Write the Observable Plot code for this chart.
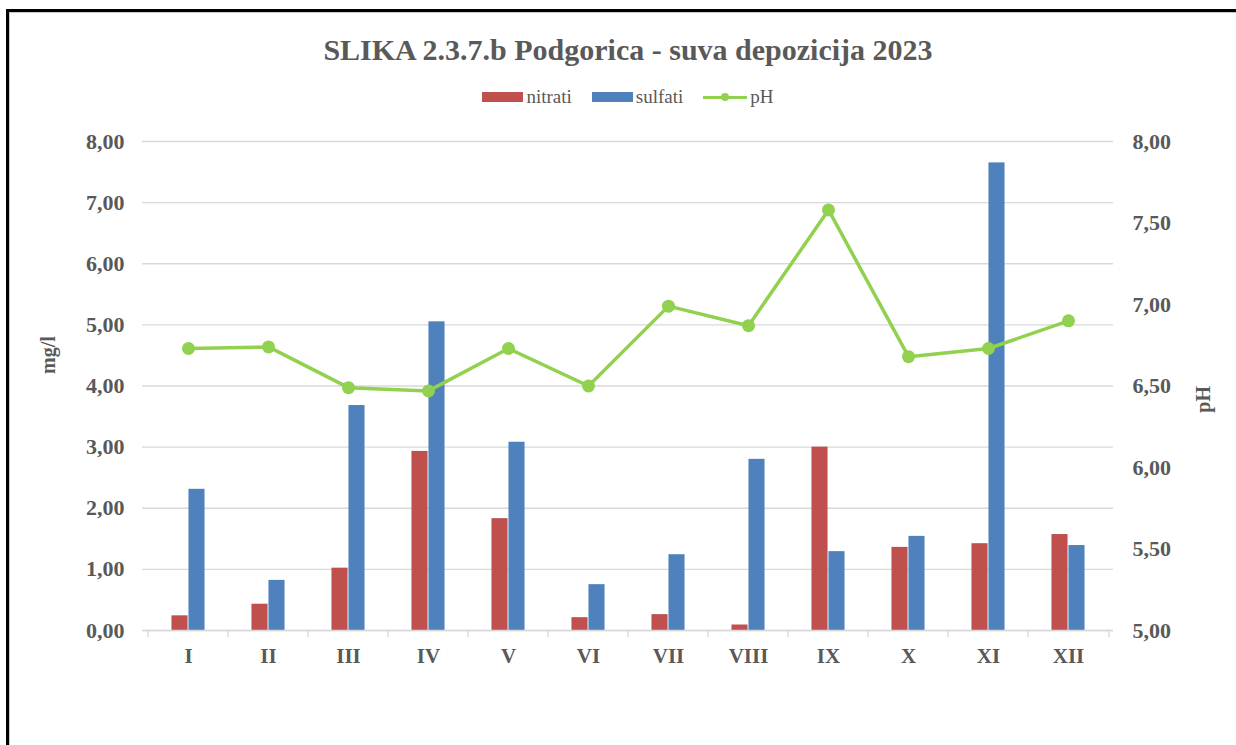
<!DOCTYPE html>
<html>
<head>
<meta charset="utf-8">
<script src="https://cdn.jsdelivr.net/npm/d3@7"></script>
<script src="https://cdn.jsdelivr.net/npm/@observablehq/plot@0.6"></script>
<style>
  html, body { margin: 0; padding: 0; background: #fff; }
  body { width: 1236px; height: 745px; position: relative; overflow: hidden; font-family: "Liberation Serif", "Times New Roman", serif; color: #595959; }
  #frame { position: absolute; left: 6px; top: 9px; width: 1400px; height: 900px; border-top: 3px solid #000; border-left: 3px solid #000; box-shadow: inset 1px 1px 0 #c8c8c8; }
  #title { position: absolute; top: 32px; left: 0; width: 1256px; text-align: center; font-weight: bold; font-size: 30px; line-height: 36px; color: #595959; font-family: "Liberation Serif", serif; }
  #legend { position: absolute; top: 86px; left: 0; width: 1256px; display: flex; justify-content: center; align-items: center; font-size: 19px; line-height: 22px; color: #595959; font-family: "Liberation Serif", serif; }
  .item { display: flex; align-items: center; margin: 0 10px; }
  .sw { width: 41px; height: 10px; margin-right: 3px; }
  .ln { width: 44px; height: 10px; margin-right: 3px; position: relative; }
  .ln::before { content: ""; position: absolute; left: 0; right: 0; top: 3.5px; height: 3px; background: #92D050; }
  .ln::after { content: ""; position: absolute; left: 18px; top: 1px; width: 8px; height: 8px; border-radius: 50%; background: #92D050; }
  #chart { position: absolute; top: 110px; left: 0; }
</style>
</head>
<body>
<div id="frame"></div>
<div id="title">SLIKA 2.3.7.b Podgorica - suva depozicija 2023</div>
<div id="legend">
  <div class="item"><div class="sw" style="background:#C0504D"></div><span>nitrati</span></div>
  <div class="item"><div class="sw" style="background:#4F81BD"></div><span>sulfati</span></div>
  <div class="item"><div class="ln"></div><span>pH</span></div>
</div>
<div id="chart"></div>
<script>
const months = ["I","II","III","IV","V","VI","VII","VIII","IX","X","XI","XII"];
const nitrati = [0.24, 0.43, 1.02, 2.93, 1.83, 0.21, 0.26, 0.09, 3.00, 1.36, 1.42, 1.57];
const sulfati = [2.31, 0.82, 3.68, 5.05, 3.08, 0.75, 1.24, 2.80, 1.29, 1.54, 7.65, 1.39];
const pH = [6.73, 6.74, 6.49, 6.47, 6.73, 6.50, 6.99, 6.87, 7.58, 6.68, 6.73, 6.90];
const leftTicks = [0, 1, 2, 3, 4, 5, 6, 7, 8];
const rightTicks = [5.0, 5.5, 6.0, 6.5, 7.0, 7.5, 8.0];

const W = 1236, H = 635, ML = 142, MR = 123, MT = 31, MB = 115;
const step = (W - ML - MR) / months.length;
const pHmin = 5, pHmax = 8, yMax = 8;
const toY = p => (p - pHmin) * yMax / (pHmax - pHmin);
const fromY = y => pHmin + y * (pHmax - pHmin) / yMax;
const fmt = v => v.toFixed(2).replace(".", ",");

const nitData = months.map((m, i) => ({m, v: nitrati[i]}));
const sulData = months.map((m, i) => ({m, v: sulfati[i]}));
const phData = months.map((m, i) => ({m, p: pH[i]}));

const grid = "#d9d9d9";
const txt = "#595959";
const barW = 17;
const off = (step - 2 * barW) / 2;

const chart = Plot.plot({
  width: W, height: H,
  marginLeft: ML, marginRight: MR, marginTop: MT, marginBottom: MB,
  style: {fontFamily: "'Liberation Serif', 'Times New Roman', serif", color: txt, background: "transparent"},
  x: {domain: months, padding: 0},
  y: {domain: [0, yMax]},
  marks: [
    Plot.gridY(leftTicks, {stroke: grid, strokeOpacity: 1, strokeWidth: 1.4}),
    Plot.barY(nitData, {x: "m", y: "v", fill: "#C0504D", insetLeft: off, insetRight: off + barW}),
    Plot.barY(sulData, {x: "m", y: "v", fill: "#4F81BD", insetLeft: off + barW, insetRight: off}),
    Plot.ruleY([0], {stroke: grid, strokeWidth: 1.4}),
    Plot.axisX({tickSize: 7, dx: -step / 2, tickFormat: () => "", stroke: grid, strokeWidth: 1.4, strokeOpacity: 1, label: null}),
    Plot.axisX([months[months.length - 1]], {tickSize: 7, dx: step / 2, tickFormat: () => "", stroke: grid, strokeWidth: 1.4, strokeOpacity: 1, label: null}),
    Plot.axisX({tickSize: 0, tickPadding: 18, fontSize: 21, fontWeight: "bold", fill: txt, label: null}),
    Plot.line(phData, {x: "m", y: d => toY(d.p), stroke: "#92D050", strokeWidth: 3.5}),
    Plot.dot(phData, {x: "m", y: d => toY(d.p), r: 6.5, fill: "#92D050"}),
    Plot.axisY(leftTicks, {anchor: "left", tickSize: 0, tickPadding: 18, tickFormat: fmt, fontSize: 22, fontWeight: "bold", fill: txt, label: null}),
    Plot.axisY(rightTicks.map(toY), {anchor: "right", tickSize: 0, tickPadding: 19, tickFormat: d => fmt(fromY(d)), fontSize: 22, fontWeight: "bold", fill: txt, label: null}),
    Plot.text(["mg/l"], {frameAnchor: "left", text: d => d, dx: -94, dy: -12, rotate: -90, fontSize: 20, fontWeight: "bold", fill: txt}),
    Plot.text(["pH"], {frameAnchor: "right", text: d => d, dx: 90, rotate: -90, fontSize: 20, fontWeight: "bold", fill: txt})
  ]
});
document.getElementById("chart").appendChild(chart);
</script>
</body>
</html>
